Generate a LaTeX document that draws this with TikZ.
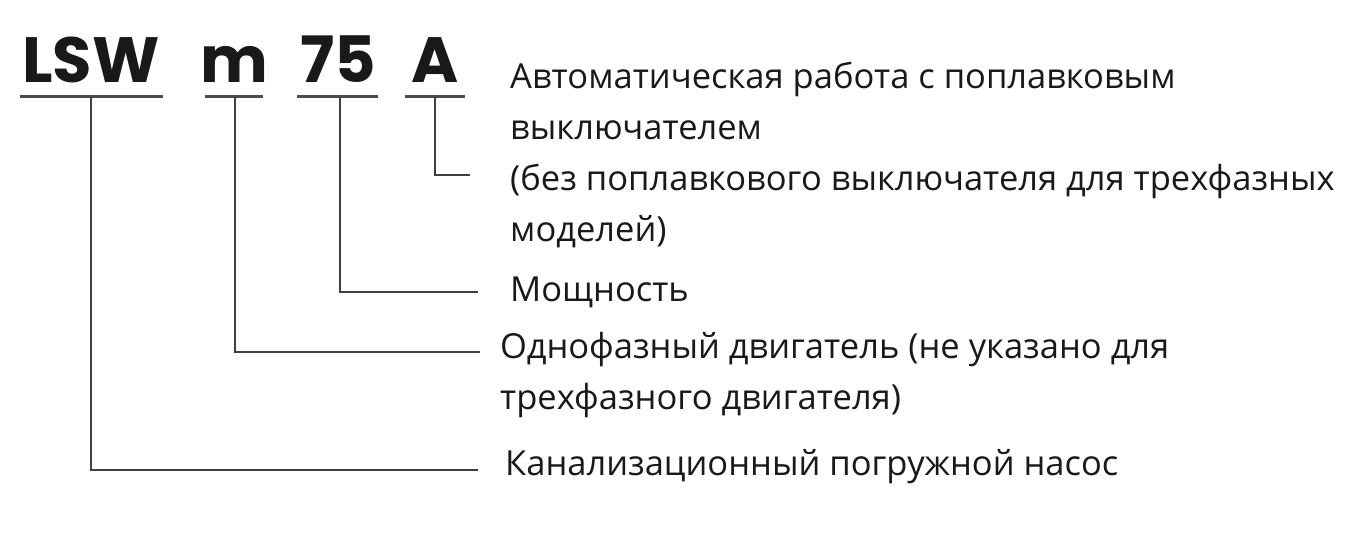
\documentclass[tikz,border=0pt]{standalone}
\usepackage{fontspec}
\setmainfont{Open Sans}
\newfontfamily\codefont{Poppins}
\begin{document}
\begin{tikzpicture}[x=1pt,y=-1pt,
  code/.style={font=\codefont\bfseries\fontsize{64}{64}\selectfont, anchor=base, inner sep=0pt, text=black!90},
  ul/.style={line width=3pt, draw=black!70},
  conn/.style={line width=2.2pt, draw=black!75},
  lab/.style={font=\fontsize{34.5}{51}\selectfont, anchor=west, align=left, inner sep=0pt, text=black!90}]
\useasboundingbox (0,0) rectangle (1351,559);
\node[code] (c1) at (91,83) {LSW};
\node[code] (c2) at (234,83) {m};
\node[code] (c3) at (338,83) {75};
\node[code] (c4) at (435,83) {A};
\draw[ul] (20,97) -- (163,97);
\draw[ul] (205,97) -- (263,97);
\draw[ul] (297,97) -- (378,97);
\draw[ul] (405,97) -- (465,97);
\node[lab] (t4) at (510,155) {Автоматическая работа с поплавковым\\выключателем\\(без поплавкового выключателя для трехфазных\\моделей)};
\node[lab] (t3) at (510,292) {Мощность};
\node[lab] (t2) at (500,375) {Однофазный двигатель (не указано для\\трехфазного двигателя)};
\node[lab] (t1) at (505,467) {Канализационный погружной насос};
\coordinate (e4) at (470,175);
\coordinate (e3) at (478,292);
\coordinate (e2) at (480,352);
\coordinate (e1) at (478,470);
\draw[conn] (435,97) |- (e4);
\draw[conn] (340,97) |- (e3);
\draw[conn] (235,97) |- (e2);
\draw[conn] (91,97) |- (e1);
\end{tikzpicture}
\end{document}
